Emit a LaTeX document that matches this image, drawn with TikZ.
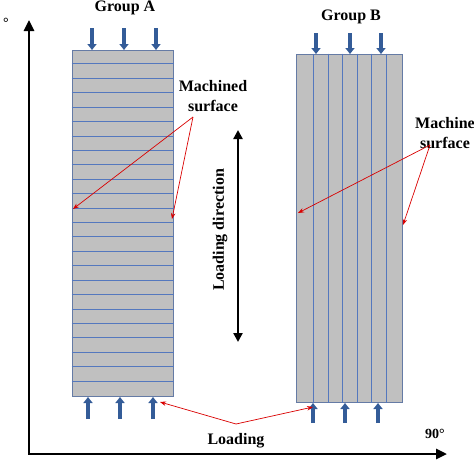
\documentclass[tikz,border=0pt]{standalone}
\usepackage{fontspec}
\setmainfont{Liberation Serif}
\usetikzlibrary{arrows.meta}
\definecolor{slabgray}{RGB}{192,192,192}
\definecolor{cutblue}{RGB}{84,120,190}
\definecolor{loadblue}{RGB}{52,92,152}

\begin{document}
\begin{tikzpicture}[x=1pt,y=-1pt,
  specimen/.style={draw=cutblue!60!gray,line width=1pt,fill=slabgray,inner sep=0pt},
  cutline/.style={cutblue,line width=0.9pt},
  push/.style={loadblue,line width=3.5pt,-{Triangle[width=9pt,length=6pt]}},
  pointer/.style={red!85!black,line width=0.7pt,-{Stealth[length=6pt,width=4.5pt]}},
  axis/.style={line width=2.6pt,{Triangle[length=11pt,width=10pt]}-{Triangle[length=11pt,width=10pt]}},
  lbl/.style={font=\bfseries\fontsize{16}{20}\selectfont,align=center,inner sep=0pt}]

\useasboundingbox (0,0) rectangle (474,474);

% axes
\coordinate (origin) at (29,454);
\coordinate (ytip) at (29,20);
\coordinate (xtip) at (447,454);
\draw[axis] (ytip) -- (origin) -- (xtip);
\node[lbl,font=\bfseries\fontsize{14}{16}\selectfont] (ang0) at (6,23) {°};
\node[lbl,font=\bfseries\fontsize{14}{16}\selectfont] (ang90) at (435,434) {90°};

% specimens
\node at (122.5,223) [specimen,minimum width=101pt,minimum height=346pt] (grpA) {};
\node at (349,228) [specimen,minimum width=106pt,minimum height=348pt] (grpB) {};
\foreach \k in {1,...,23}
  \draw[cutline] ([yshift=-\k*14.417pt]grpA.north west) -- ([yshift=-\k*14.417pt]grpA.north east);
\foreach \k in {0,...,5}
  \draw[cutline] ([xshift=18pt+\k*14.6pt]grpB.north west) -- ([xshift=18pt+\k*14.6pt]grpB.south west);

\node[lbl] (titleA) at (125,8) {Group A};
\node[lbl] (titleB) at (351,17) {Group B};

% loads
\foreach \x in {92,124,156}
  \draw[push] (\x,28) -- (\x,50);
\foreach \x in {88,120,153}
  \draw[push] (\x,419) -- (\x,397);
\foreach \x in {316,350,381}
  \draw[push] (\x,33) -- (\x,54);
\foreach \x in {313,345,378}
  \draw[push] (\x,423) -- (\x,403);

% loading direction
\coordinate (dirtop) at (238,130);
\coordinate (dirbot) at (238,342);
\draw[axis,line width=2.4pt,{Triangle[length=9pt,width=9pt]}-{Triangle[length=9pt,width=9pt]}] (dirtop) -- (dirbot);
\node[lbl,rotate=90] (dirtxt) at (220,230) {Loading direction};

% machined surfaces
\node[lbl] (surfA) at (213,96) {Machined\\surface};
\coordinate (srcA) at (193,117);
\coordinate (hitA1) at (73,209);
\coordinate (hitA2) at (172,219);
\draw[pointer] (srcA) -- (hitA1);
\draw[pointer] (srcA) -- (hitA2);

\node[lbl] (surfB) at (445,133) {Machine\\surface};
\coordinate (srcB) at (430,145);
\coordinate (hitB1) at (298,213);
\coordinate (hitB2) at (403,225);
\draw[pointer] (srcB) -- (hitB1);
\draw[pointer] (srcB) -- (hitB2);

% loading
\node[lbl] (loadtxt) at (236,441) {Loading};
\coordinate (srcL) at (236,424);
\coordinate (hitL1) at (160,402);
\coordinate (hitL2) at (313,407);
\draw[pointer] (srcL) -- (hitL1);
\draw[pointer] (srcL) -- (hitL2);

\end{tikzpicture}
\end{document}
